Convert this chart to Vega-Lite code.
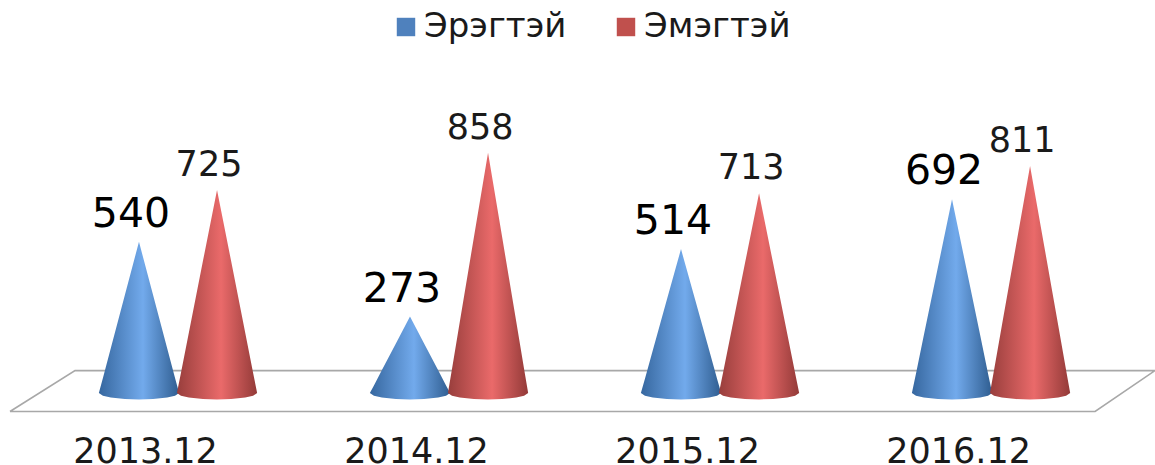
{
"$schema":"https://vega.github.io/schema/vega-lite/v6.json",
"width":1155,"height":435,"autosize":"none","padding":{"left":0,"top":0,"right":0,"bottom":30},"background":"white",
"config":{"view":{"stroke":null},"font":"DejaVu Sans"},
"datasets":{
"floor":[{"o":1,"x":-0.62,"y":-66},{"o":2,"x":-0.38,"y":80},{"o":3,"x":3.605,"y":80},{"o":4,"x":3.384,"y":-66},{"o":5,"x":-0.62,"y":-66}],
"labels":[
{"p":"2013.12","s":"Эрэгтэй","x":-0.144,"v":540},{"p":"2013.12","s":"Эмэгтэй","x":0.144,"v":725},
{"p":"2014.12","s":"Эрэгтэй","x":0.856,"v":273},{"p":"2014.12","s":"Эмэгтэй","x":1.144,"v":858},
{"p":"2015.12","s":"Эрэгтэй","x":1.856,"v":514},{"p":"2015.12","s":"Эмэгтэй","x":2.144,"v":713},
{"p":"2016.12","s":"Эрэгтэй","x":2.856,"v":692},{"p":"2016.12","s":"Эмэгтэй","x":3.144,"v":811}],
"cones":[
{"p":"2013.12","s":"Эрэгтэй","x":-0.292,"t":0,"b":0},{"p":"2013.12","s":"Эрэгтэй","x":-0.277,"t":54,"b":-10},{"p":"2013.12","s":"Эрэгтэй","x":-0.248,"t":160,"b":-16.5},{"p":"2013.12","s":"Эрэгтэй","x":-0.196,"t":350,"b":-21.7},{"p":"2013.12","s":"Эрэгтэй","x":-0.144,"t":540,"b":-23},{"p":"2013.12","s":"Эрэгтэй","x":-0.092,"t":350,"b":-21.7},{"p":"2013.12","s":"Эрэгтэй","x":-0.04,"t":160,"b":-16.5},{"p":"2013.12","s":"Эрэгтэй","x":-0.011,"t":54,"b":-10},{"p":"2013.12","s":"Эрэгтэй","x":0.004,"t":0,"b":0},
{"p":"2014.12","s":"Эрэгтэй","x":0.708,"t":0,"b":0},{"p":"2014.12","s":"Эрэгтэй","x":0.723,"t":27,"b":-10},{"p":"2014.12","s":"Эрэгтэй","x":0.752,"t":81,"b":-16.5},{"p":"2014.12","s":"Эрэгтэй","x":0.804,"t":177,"b":-21.7},{"p":"2014.12","s":"Эрэгтэй","x":0.856,"t":273,"b":-23},{"p":"2014.12","s":"Эрэгтэй","x":0.908,"t":177,"b":-21.7},{"p":"2014.12","s":"Эрэгтэй","x":0.96,"t":81,"b":-16.5},{"p":"2014.12","s":"Эрэгтэй","x":0.989,"t":27,"b":-10},{"p":"2014.12","s":"Эрэгтэй","x":1.004,"t":0,"b":0},
{"p":"2015.12","s":"Эрэгтэй","x":1.708,"t":0,"b":0},{"p":"2015.12","s":"Эрэгтэй","x":1.723,"t":51,"b":-10},{"p":"2015.12","s":"Эрэгтэй","x":1.752,"t":153,"b":-16.5},{"p":"2015.12","s":"Эрэгтэй","x":1.804,"t":334,"b":-21.7},{"p":"2015.12","s":"Эрэгтэй","x":1.856,"t":514,"b":-23},{"p":"2015.12","s":"Эрэгтэй","x":1.908,"t":334,"b":-21.7},{"p":"2015.12","s":"Эрэгтэй","x":1.96,"t":153,"b":-16.5},{"p":"2015.12","s":"Эрэгтэй","x":1.989,"t":51,"b":-10},{"p":"2015.12","s":"Эрэгтэй","x":2.004,"t":0,"b":0},
{"p":"2016.12","s":"Эрэгтэй","x":2.708,"t":0,"b":0},{"p":"2016.12","s":"Эрэгтэй","x":2.723,"t":69,"b":-10},{"p":"2016.12","s":"Эрэгтэй","x":2.752,"t":206,"b":-16.5},{"p":"2016.12","s":"Эрэгтэй","x":2.804,"t":449,"b":-21.7},{"p":"2016.12","s":"Эрэгтэй","x":2.856,"t":692,"b":-23},{"p":"2016.12","s":"Эрэгтэй","x":2.908,"t":449,"b":-21.7},{"p":"2016.12","s":"Эрэгтэй","x":2.96,"t":206,"b":-16.5},{"p":"2016.12","s":"Эрэгтэй","x":2.989,"t":69,"b":-10},{"p":"2016.12","s":"Эрэгтэй","x":3.004,"t":0,"b":0},
{"p":"2013.12","s":"Эмэгтэй","x":-0.004,"t":0,"b":0},{"p":"2013.12","s":"Эмэгтэй","x":0.011,"t":72,"b":-10},{"p":"2013.12","s":"Эмэгтэй","x":0.04,"t":215,"b":-16.5},{"p":"2013.12","s":"Эмэгтэй","x":0.092,"t":471,"b":-21.7},{"p":"2013.12","s":"Эмэгтэй","x":0.144,"t":725,"b":-23},{"p":"2013.12","s":"Эмэгтэй","x":0.196,"t":471,"b":-21.7},{"p":"2013.12","s":"Эмэгтэй","x":0.248,"t":215,"b":-16.5},{"p":"2013.12","s":"Эмэгтэй","x":0.277,"t":72,"b":-10},{"p":"2013.12","s":"Эмэгтэй","x":0.292,"t":0,"b":0},
{"p":"2014.12","s":"Эмэгтэй","x":0.996,"t":0,"b":0},{"p":"2014.12","s":"Эмэгтэй","x":1.011,"t":86,"b":-10},{"p":"2014.12","s":"Эмэгтэй","x":1.04,"t":255,"b":-16.5},{"p":"2014.12","s":"Эмэгтэй","x":1.092,"t":557,"b":-21.7},{"p":"2014.12","s":"Эмэгтэй","x":1.144,"t":858,"b":-23},{"p":"2014.12","s":"Эмэгтэй","x":1.196,"t":557,"b":-21.7},{"p":"2014.12","s":"Эмэгтэй","x":1.248,"t":255,"b":-16.5},{"p":"2014.12","s":"Эмэгтэй","x":1.277,"t":86,"b":-10},{"p":"2014.12","s":"Эмэгтэй","x":1.292,"t":0,"b":0},
{"p":"2015.12","s":"Эмэгтэй","x":1.996,"t":0,"b":0},{"p":"2015.12","s":"Эмэгтэй","x":2.011,"t":71,"b":-10},{"p":"2015.12","s":"Эмэгтэй","x":2.04,"t":212,"b":-16.5},{"p":"2015.12","s":"Эмэгтэй","x":2.092,"t":463,"b":-21.7},{"p":"2015.12","s":"Эмэгтэй","x":2.144,"t":713,"b":-23},{"p":"2015.12","s":"Эмэгтэй","x":2.196,"t":463,"b":-21.7},{"p":"2015.12","s":"Эмэгтэй","x":2.248,"t":212,"b":-16.5},{"p":"2015.12","s":"Эмэгтэй","x":2.277,"t":71,"b":-10},{"p":"2015.12","s":"Эмэгтэй","x":2.292,"t":0,"b":0},
{"p":"2016.12","s":"Эмэгтэй","x":2.996,"t":0,"b":0},{"p":"2016.12","s":"Эмэгтэй","x":3.011,"t":81,"b":-10},{"p":"2016.12","s":"Эмэгтэй","x":3.04,"t":241,"b":-16.5},{"p":"2016.12","s":"Эмэгтэй","x":3.092,"t":526,"b":-21.7},{"p":"2016.12","s":"Эмэгтэй","x":3.144,"t":811,"b":-23},{"p":"2016.12","s":"Эмэгтэй","x":3.196,"t":526,"b":-21.7},{"p":"2016.12","s":"Эмэгтэй","x":3.248,"t":241,"b":-16.5},{"p":"2016.12","s":"Эмэгтэй","x":3.277,"t":81,"b":-10},{"p":"2016.12","s":"Эмэгтэй","x":3.292,"t":0,"b":0}
]},
"resolve":{"scale":{"x":"shared","y":"shared"}},
"layer":[
{"data":{"name":"floor"},"mark":{"type":"line","stroke":"#a8a8a8","strokeWidth":1.6,"clip":true},
 "encoding":{"x":{"field":"x","type":"quantitative","scale":{"domain":[-0.6568,3.605],"nice":false,"zero":false},
   "axis":{"values":[0,1,2,3],"labelExpr":"['2013.12','2014.12','2015.12','2016.12'][datum.value]","title":null,"domain":false,"ticks":false,"grid":false,"labelFontSize":35,"labelColor":"#1a1a1a","labelPadding":-1,"labelOffset":-33,"labelFlush":false,"labelOverlap":false,"labelBaseline":"top"}},
  "y":{"field":"y","type":"quantitative","scale":{"domain":[-150,1403.57],"nice":false,"zero":false},"axis":null},
  "order":{"field":"o","type":"quantitative"}}},
{"data":{"name":"cones"},"transform":[{"filter":"datum.s === 'Эрэгтэй'"}],
 "mark":{"type":"area","interpolate":"linear","fill":{"gradient":"linear","x1":0,"y1":0,"x2":1,"y2":0,"stops":[{"offset":0,"color":"#36679f"},{"offset":0.55,"color":"#72aaec"},{"offset":1,"color":"#2f5d90"}]}},
 "encoding":{"x":{"field":"x","type":"quantitative"},"y":{"field":"t","type":"quantitative"},"y2":{"field":"b"},"detail":{"field":"p"}}},
{"data":{"name":"cones"},"transform":[{"filter":"datum.s === 'Эмэгтэй'"}],
 "mark":{"type":"area","interpolate":"linear","fill":{"gradient":"linear","x1":0,"y1":0,"x2":1,"y2":0,"stops":[{"offset":0,"color":"#983e3c"},{"offset":0.55,"color":"#ea6a6a"},{"offset":1,"color":"#933a38"}]}},
 "encoding":{"x":{"field":"x","type":"quantitative"},"y":{"field":"t","type":"quantitative"},"y2":{"field":"b"},"detail":{"field":"p"}}},
{"data":{"name":"labels"},"mark":{"type":"point","opacity":0,"filled":true},
 "encoding":{"x":{"field":"x","type":"quantitative"},"y":{"field":"v","type":"quantitative"},
  "color":{"field":"s","type":"nominal","scale":{"domain":["Эрэгтэй","Эмэгтэй"],"range":["#4f81bd","#c0504d"]},
   "legend":{"title":null,"orient":"none","legendX":389,"legendY":10,"direction":"horizontal","symbolType":"square","symbolSize":340,"symbolOpacity":1,"symbolStrokeWidth":0,"labelFontSize":34,"labelColor":"#1a1a1a","labelOffset":1,"columnPadding":42,"labelLimit":300}}}},
{"data":{"name":"labels"},"transform":[{"filter":"datum.s === 'Эрэгтэй'"}],
 "mark":{"type":"text","fontSize":41,"dx":-8,"dy":-27,"baseline":"middle","align":"center","color":"#000000"},
 "encoding":{"x":{"field":"x","type":"quantitative"},"y":{"field":"v","type":"quantitative"},"text":{"field":"v","type":"quantitative"}}},
{"data":{"name":"labels"},"transform":[{"filter":"datum.s === 'Эмэгтэй'"}],
 "mark":{"type":"text","fontSize":35,"dx":-8,"dy":-25,"baseline":"middle","align":"center","color":"#1a1a1a"},
 "encoding":{"x":{"field":"x","type":"quantitative"},"y":{"field":"v","type":"quantitative"},"text":{"field":"v","type":"quantitative"}}}
]}
